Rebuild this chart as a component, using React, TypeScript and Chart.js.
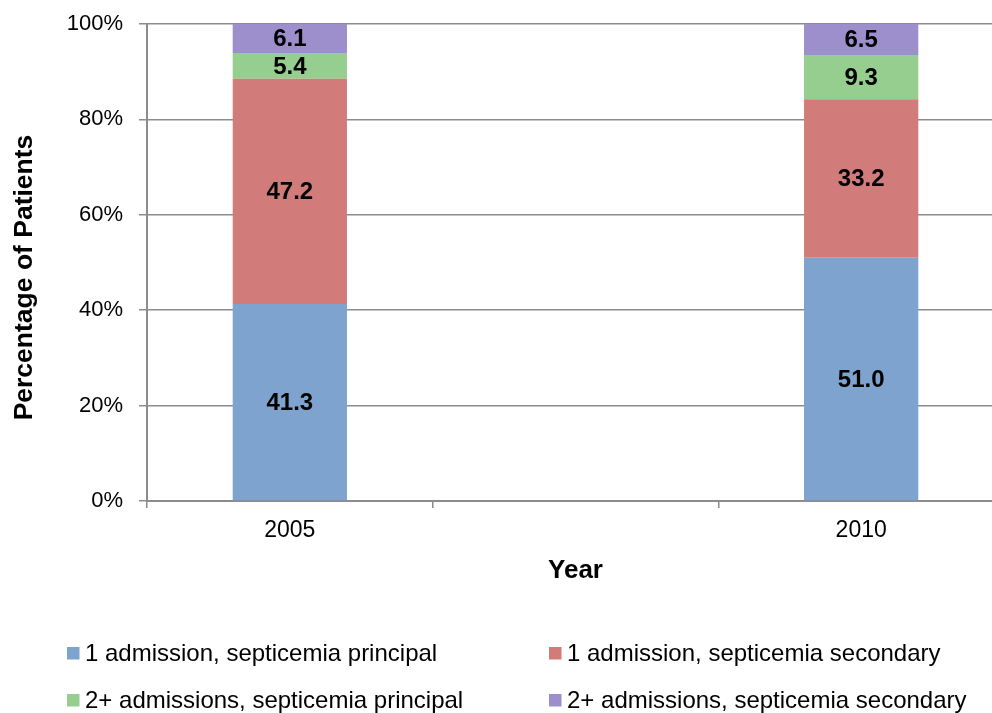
import React, { useEffect, useRef } from "react";
import { Chart, registerables } from "chart.js";

Chart.register(...registerables);

const CATEGORIES = ["2005", "", "2010"];
const SERIES_NAMES = [
  "1 admission, septicemia principal",
  "1 admission, septicemia secondary",
  "2+ admissions, septicemia principal",
  "2+ admissions, septicemia secondary",
];
const ONE_PRINCIPAL = [41.3, null, 51.0];
const ONE_SECONDARY = [47.2, null, 33.2];
const TWO_PRINCIPAL = [5.4, null, 9.3];
const TWO_SECONDARY = [6.1, null, 6.5];
const SERIES_VALUES = [ONE_PRINCIPAL, ONE_SECONDARY, TWO_PRINCIPAL, TWO_SECONDARY];
const COLORS = ["#7EA3CF", "#D27B7B", "#95CE8E", "#9C8FCB"];
const Y_TICKS = [0, 20, 40, 60, 80, 100];
const Y_TITLE = "Percentage of Patients";
const X_TITLE = "Year";

const FONT = "'Liberation Sans', Arial, sans-serif";
const GRID = "#8c8c8c";

const valueLabels = {
  id: "valueLabels",
  afterDatasetsDraw(chart: any) {
    const ctx = chart.ctx;
    ctx.save();
    ctx.font = `bold 24px ${FONT}`;
    ctx.fillStyle = "#000";
    ctx.textAlign = "center";
    ctx.textBaseline = "middle";
    chart.data.datasets.forEach((ds: any, i: number) => {
      const meta = chart.getDatasetMeta(i);
      meta.data.forEach((el: any, j: number) => {
        const v = ds.data[j];
        if (v === null || v === undefined) return;
        const p = el.getProps(["x", "y", "base"], true);
        ctx.fillText(Number(v).toFixed(1), p.x, (p.y + p.base) / 2 + 1);
      });
    });
    ctx.restore();
  },
};

const decor = {
  id: "decor",
  afterDraw(chart: any) {
    const ctx = chart.ctx;
    const area = chart.chartArea;
    ctx.save();
    ctx.fillStyle = "#000";
    // Y title
    ctx.font = `bold 26.5px ${FONT}`;
    ctx.textAlign = "center";
    ctx.textBaseline = "alphabetic";
    ctx.save();
    ctx.translate(32, (area.top + area.bottom) / 2 + 15);
    ctx.rotate(-Math.PI / 2);
    ctx.fillText(Y_TITLE, 0, 0);
    ctx.restore();
    // X title
    ctx.font = `bold 26px ${FONT}`;
    ctx.fillText(X_TITLE, (area.left + area.right) / 2, 578);
    // Legend
    ctx.font = `24px ${FONT}`;
    ctx.textAlign = "left";
    const cols = [67, 549];
    const rows = [661, 708];
    chart.data.datasets.forEach((ds: any, i: number) => {
      const cx = cols[i % 2];
      const cy = rows[Math.floor(i / 2)];
      ctx.fillStyle = ds.backgroundColor;
      ctx.fillRect(cx, cy - 14, 12.5, 12.5);
      ctx.fillStyle = "#000";
      ctx.fillText(ds.label, cx + 18, cy);
    });
    ctx.restore();
  },
};

export default function App() {
  const ref = useRef<HTMLCanvasElement | null>(null);
  useEffect(() => {
    if (!ref.current) return;
    const chart = new Chart(ref.current, {
      type: "bar",
      data: {
        labels: CATEGORIES,
        datasets: SERIES_VALUES.map((vals, i) => ({
          label: SERIES_NAMES[i],
          data: vals,
          backgroundColor: COLORS[i],
          borderWidth: 0,
          categoryPercentage: 1,
          barPercentage: 0.4,
        })),
      },
      options: {
        responsive: false,
        animation: false,
        devicePixelRatio: 1,
        layout: { padding: { left: 0, right: 0, top: 24, bottom: 0 } },
        plugins: {
          legend: { display: false },
          tooltip: { enabled: false },
          title: { display: false },
        },
        scales: {
          x: {
            stacked: true,
            grid: {
              drawOnChartArea: false,
              drawTicks: true,
              tickLength: 7,
              color: GRID,
              lineWidth: 1.5,
              offset: true,
            },
            border: { display: true, color: GRID, width: 2 },
            ticks: {
              font: { family: FONT, size: 23 },
              color: "#000",
              padding: 9,
            },
            afterFit: (s: any) => {
              s.height = 212;
              s.paddingLeft = 0;
              s.paddingRight = 0;
            },
          },
          y: {
            stacked: true,
            min: 0,
            max: 100,
            afterBuildTicks: (s: any) => {
              s.ticks = Y_TICKS.map((v) => ({ value: v }));
            },
            ticks: {
              font: { family: FONT, size: 22 },
              color: "#000",
              padding: 16,
              callback: (v: any) => `${v}%`,
            },
            grid: { color: GRID, lineWidth: 1.5, tickLength: 8 },
            border: { display: true, color: GRID, width: 2 },
            afterFit: (s: any) => {
              s.width = 147;
              s.paddingTop = 0;
              s.paddingBottom = 0;
            },
          },
        },
      },
      plugins: [valueLabels, decor],
    });
    return () => chart.destroy();
  }, []);
  return (
    <div
      style={{
        position: "fixed",
        left: 0,
        top: 0,
        width: 992,
        height: 713,
        overflow: "hidden",
        background: "#fff",
      }}
    >
      <canvas ref={ref} width={1004} height={713} style={{ width: 1004, height: 713, display: "block" }} />
    </div>
  );
}
